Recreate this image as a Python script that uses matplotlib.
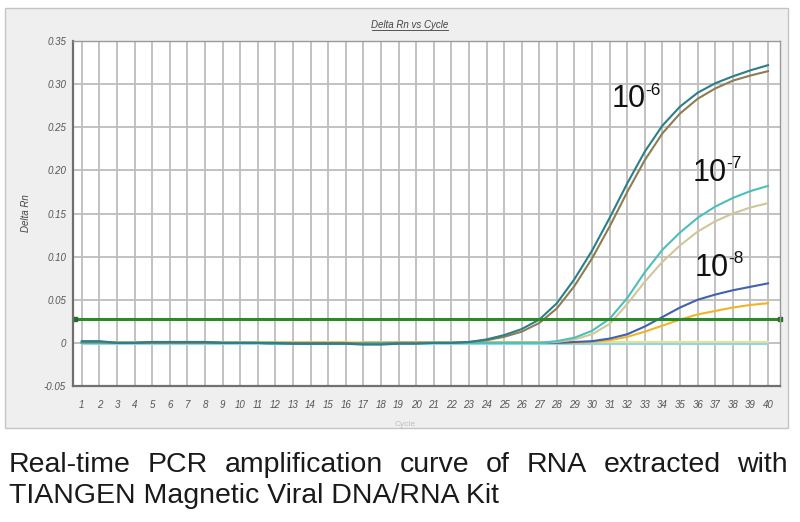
import matplotlib.pyplot as plt
from matplotlib.patches import Rectangle
from matplotlib.lines import Line2D
import numpy as np

plt.rcParams['font.family'] = ['Liberation Sans', 'DejaVu Sans']

cycles = np.arange(1, 41)

# baseline part (cycles 1-22) is almost flat for every well
base_a = [0.002, 0.002, 0.000, 0.000, 0.001, 0.001, 0.001, 0.001, 0.000, 0.000, 0.000,
          0.000, -0.001, -0.001, -0.001, -0.001, -0.002, -0.002, -0.001, -0.001, 0.000, 0.000]
base_b = [0.001, 0.001, 0.000, 0.000, 0.000, 0.000, 0.000, 0.000, 0.000, 0.000, 0.000,
          0.000, 0.000, 0.000, 0.000, 0.000, -0.001, -0.001, 0.000, 0.000, 0.000, 0.000]
base_c = [0.000, 0.000, 0.000, 0.000, 0.001, 0.001, 0.001, 0.001, 0.000, 0.000, 0.000,
          -0.001, -0.001, -0.001, -0.001, -0.001, 0.000, 0.000, 0.000, 0.000, 0.000, 0.000]

# 10^-6
s6a = base_a + [0.001, 0.004, 0.009, 0.016, 0.027, 0.046, 0.074, 0.107, 0.145, 0.185,
                0.222, 0.252, 0.274, 0.290, 0.301, 0.309, 0.316, 0.322]
s6b = base_b + [0.001, 0.003, 0.007, 0.013, 0.023, 0.040, 0.066, 0.098, 0.135, 0.175,
                0.212, 0.243, 0.266, 0.283, 0.295, 0.304, 0.310, 0.315]
# 10^-7
s7a = base_c + [0.000, 0.000, 0.000, 0.000, 0.000, 0.002, 0.006, 0.014, 0.028, 0.052,
                0.082, 0.108, 0.128, 0.145, 0.158, 0.168, 0.176, 0.182]
s7b = base_b + [0.000, 0.000, 0.000, 0.000, 0.000, 0.001, 0.004, 0.010, 0.022, 0.045,
                0.071, 0.094, 0.113, 0.129, 0.141, 0.150, 0.157, 0.162]
# 10^-8
s8a = base_c + [0.000, 0.000, 0.000, 0.000, 0.000, 0.000, 0.001, 0.002, 0.005, 0.010,
                0.019, 0.030, 0.041, 0.050, 0.056, 0.061, 0.065, 0.069]
s8b = base_b + [0.000, 0.000, 0.000, 0.000, 0.000, 0.000, 0.000, 0.001, 0.003, 0.007,
                0.013, 0.020, 0.027, 0.033, 0.037, 0.041, 0.044, 0.046]
# negative controls
ntc1 = [-0.001] * 40
ntc2 = [0.0005] * 40

threshold = 0.028

series = [ntc2, ntc1, s8b, s8a, s7b, s7a, s6b, s6a]
colors = ['#eee08a', '#8fd6ea', '#f0b428', '#4060b0', '#cfc79a', '#4cbfb8', '#8c7d52', '#2b7f88']

labels = [('10', '-6', 31.1, 0.273), ('10', '-7', 35.7, 0.188), ('10', '-8', 35.8, 0.078)]

fig = plt.figure(figsize=(8, 5.22), dpi=100)
fig.patches.append(Rectangle((5 / 800, 1 - 428 / 522), 783 / 800, 420 / 522,
                             transform=fig.transFigure, facecolor='#efefef',
                             edgecolor='#c4c4c4', lw=1, zorder=-10))

ax = fig.add_axes([73 / 800, 1 - 386 / 522, 707 / 800, 345 / 522])
ax.set_facecolor('white')
ax.set_xlim(0.5, 40.68)
ax.set_ylim(-0.05, 0.35)
ax.set_xticks(cycles)
ax.set_xticklabels([str(c) for c in cycles])
yt = [-0.05, 0, 0.05, 0.10, 0.15, 0.20, 0.25, 0.30, 0.35]
ax.set_yticks(yt)
ax.set_yticklabels(['-0.05', '0', '0.05', '0.10', '0.15', '0.20', '0.25', '0.30', '0.35'])
ax.tick_params(axis='x', length=0, pad=10, labelsize=7, labelcolor='#555555')
ax.tick_params(axis='y', length=0, pad=5, labelsize=7, labelcolor='#555555')
for t in ax.get_xticklabels() + ax.get_yticklabels():
    t.set_fontstyle('italic')
ax.grid(True, color='#bdbdbd', lw=1.3)
ax.set_axisbelow(True)
for s in ['top', 'right']:
    ax.spines[s].set_color('#9a9a9a')
    ax.spines[s].set_linewidth(1)
for s in ['left', 'bottom']:
    ax.spines[s].set_color('#707070')
    ax.spines[s].set_linewidth(1.6)

for y, c in zip(series, colors):
    ax.plot(cycles, y, color=c, lw=1.5)

ax.axhline(threshold, color='#2a8a2a', lw=2.2)
ax.plot([0.6, 40.68], [threshold, threshold], 's', color='#2a6a2a', ms=3.5, clip_on=False)

for base, sup, x, y in labels:
    ax.text(x, y, base, fontsize=22, color='#111111', va='baseline', ha='left')
    ax.annotate(sup, xy=(x, y), xytext=(24.5, 9), textcoords='offset points',
                fontsize=12.5, color='#111111', va='baseline', ha='left')

ax.set_ylabel('Delta Rn', fontsize=7, fontstyle='italic', color='#444444')
ax.yaxis.set_label_coords(-0.06, 0.5)
ax.set_xlabel('Cycle', fontsize=6, color='#c0c0c0')
ax.xaxis.set_label_coords(0.47, -0.1)

fig.text(410 / 800, 1 - 25 / 522, 'Delta Rn vs Cycle', fontsize=7, fontstyle='italic',
         color='#444444', ha='center', va='center')
fig.lines.append(Line2D([372 / 800, 448 / 800], [1 - 30 / 522, 1 - 30 / 522],
                        transform=fig.transFigure, color='#555555', lw=0.7))

# caption, first line justified across the width
line1 = 'Real-time PCR amplification curve of RNA extracted with'.split()
line2 = 'TIANGEN Magnetic Viral DNA/RNA Kit'
x0, x1 = 9 / 800, 788 / 800
fig.canvas.draw()
r = fig.canvas.get_renderer()
words = [fig.text(x0, 1 - 472 / 522, w, fontsize=20.5, color='#1a1a1a', va='baseline')
         for w in line1]
widths = [t.get_window_extent(r).width / 800 for t in words]
gap = (x1 - x0 - sum(widths)) / (len(words) - 1)
xpos = x0
for t, w in zip(words, widths):
    t.set_x(xpos)
    xpos += w + gap
fig.text(x0, 1 - 503 / 522, line2, fontsize=20.5, color='#1a1a1a', va='baseline')

fig.savefig('out.png', dpi=100)
